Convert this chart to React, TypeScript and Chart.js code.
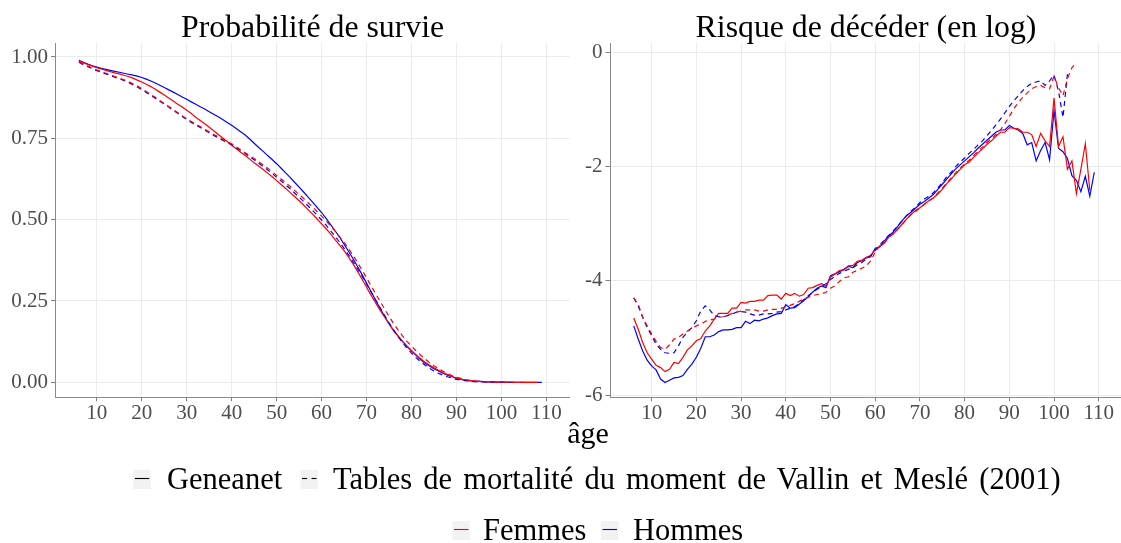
import React, { useEffect, useRef } from "react";
import { Chart, registerables } from "chart.js";

Chart.register(...registerables);

// ---------- DATA ----------
const ages = [
  6, 7, 8, 9, 10, 11, 12, 13, 14, 15, 16, 17, 18, 19, 20,
  21, 22, 23, 24, 25, 26, 27, 28, 29, 30,
  31, 32, 33, 34, 35, 36, 37, 38, 39, 40,
  41, 42, 43, 44, 45, 46, 47, 48, 49, 50,
  51, 52, 53, 54, 55, 56, 57, 58, 59, 60,
  61, 62, 63, 64, 65, 66, 67, 68, 69, 70,
  71, 72, 73, 74, 75, 76, 77, 78, 79, 80,
  81, 82, 83, 84, 85, 86, 87, 88, 89, 90,
  91, 92, 93, 94, 95, 96, 97, 98, 99, 100,
  101, 102, 103, 104, 105, 106, 107, 108, 109,
];

const xTicks = [10, 20, 30, 40, 50, 60, 70, 80, 90, 100, 110];
const survieTicks = [0, 0.25, 0.5, 0.75, 1];
const risqueTicks = [-6, -4, -2, 0];

// Probabilité de survie
const survieFemmesGeneanet = [
  0.987, 0.982, 0.977, 0.972, 0.967, 0.963, 0.959, 0.955, 0.951, 0.948, 0.944, 0.94, 0.935, 0.929, 0.923,
  0.916, 0.909, 0.901, 0.892, 0.883, 0.874, 0.865, 0.855, 0.846, 0.836,
  0.826, 0.815, 0.805, 0.795, 0.784, 0.773, 0.762, 0.751, 0.74, 0.729,
  0.718, 0.707, 0.697, 0.686, 0.675, 0.665, 0.654, 0.643, 0.632, 0.62,
  0.608, 0.596, 0.583, 0.571, 0.558, 0.545, 0.531, 0.517, 0.502, 0.487,
  0.472, 0.456, 0.439, 0.422, 0.405, 0.385, 0.364, 0.341, 0.317, 0.292,
  0.268, 0.245, 0.222, 0.201, 0.18, 0.16, 0.142, 0.126, 0.111, 0.097,
  0.085, 0.073, 0.062, 0.053, 0.045, 0.037, 0.03, 0.024, 0.018, 0.013,
  0.01, 0.007, 0.005, 0.004, 0.003, 0.002, 0.0015, 0.001, 0.0008, 0.0005,
  0.0004, 0.0003, 0.0002, 0.0002, 0.0001, 0.0001, 0.0001, 0.0001, null,
];
const survieHommesGeneanet = [
  0.99, 0.984, 0.978, 0.973, 0.969, 0.965, 0.962, 0.959, 0.956, 0.953, 0.95, 0.947, 0.944, 0.941, 0.937,
  0.932, 0.926, 0.92, 0.913, 0.906, 0.899, 0.892, 0.885, 0.877, 0.87,
  0.862, 0.855, 0.847, 0.84, 0.832, 0.824, 0.816, 0.808, 0.799, 0.79,
  0.78, 0.77, 0.76, 0.748, 0.735, 0.722, 0.71, 0.697, 0.685, 0.672,
  0.658, 0.644, 0.63, 0.615, 0.6, 0.585, 0.569, 0.554, 0.538, 0.522,
  0.504, 0.485, 0.466, 0.446, 0.425, 0.403, 0.38, 0.356, 0.331, 0.305,
  0.279, 0.253, 0.228, 0.203, 0.18, 0.16, 0.143, 0.126, 0.111, 0.097,
  0.083, 0.07, 0.059, 0.05, 0.042, 0.035, 0.028, 0.022, 0.017, 0.013,
  0.009, 0.007, 0.005, 0.004, 0.003, 0.002, 0.0015, 0.001, 0.0007, 0.0005,
  0.0004, 0.0003, 0.0002, 0.0002, 0.0001, 0.0001, 0.0001, 0.0001, 0.0001,
];
const survieFemmesVallin = [
  0.985, 0.978, 0.972, 0.966, 0.96, 0.955, 0.95, 0.945, 0.94, 0.935, 0.93, 0.925, 0.918, 0.911, 0.903,
  0.894, 0.885, 0.876, 0.866, 0.857, 0.848, 0.838, 0.829, 0.819, 0.81,
  0.802, 0.794, 0.786, 0.778, 0.77, 0.762, 0.755, 0.747, 0.74, 0.733,
  0.724, 0.715, 0.706, 0.697, 0.688, 0.678, 0.668, 0.658, 0.647, 0.636,
  0.625, 0.614, 0.602, 0.59, 0.578, 0.565, 0.552, 0.539, 0.525, 0.511,
  0.496, 0.481, 0.465, 0.448, 0.43, 0.411, 0.39, 0.368, 0.345, 0.321,
  0.297, 0.273, 0.249, 0.226, 0.203, 0.181, 0.161, 0.143, 0.126, 0.111,
  0.097, 0.084, 0.072, 0.061, 0.051, 0.042, 0.034, 0.027, 0.021, 0.016,
  0.012, 0.008, 0.006, 0.004, 0.003, 0.002, 0.0013, 0.0008, 0.0005, 0.0003,
  0.0002, 0.0001, 0.0001, 0.0001, 0.0, null, null, null, null,
];
const survieHommesVallin = [
  0.984, 0.976, 0.97, 0.964, 0.958, 0.953, 0.948, 0.943, 0.938, 0.933, 0.928, 0.922, 0.915, 0.908, 0.9,
  0.891, 0.882, 0.873, 0.864, 0.855, 0.846, 0.836, 0.827, 0.817, 0.808,
  0.799, 0.791, 0.783, 0.775, 0.767, 0.759, 0.752, 0.744, 0.737, 0.73,
  0.721, 0.712, 0.703, 0.693, 0.684, 0.674, 0.663, 0.653, 0.642, 0.63,
  0.619, 0.607, 0.595, 0.582, 0.569, 0.556, 0.542, 0.528, 0.514, 0.499,
  0.483, 0.466, 0.449, 0.431, 0.412, 0.392, 0.371, 0.349, 0.326, 0.302,
  0.278, 0.254, 0.23, 0.206, 0.183, 0.161, 0.141, 0.122, 0.105, 0.09,
  0.076, 0.064, 0.053, 0.043, 0.035, 0.028, 0.022, 0.017, 0.013, 0.009,
  0.007, 0.005, 0.003, 0.002, 0.0015, 0.001, 0.0007, 0.0004, 0.0003, 0.0002,
  0.0001, 0.0001, 0.0, null, null, null, null, null, null,
];

// Risque de décéder (en log)
const risqueFemmesGeneanet = [
  -4.65, -4.85, -5.08, -5.26, -5.37, -5.48, -5.52, -5.59, -5.55, -5.43, -5.45, -5.34, -5.21, -5.14, -5.05,
  -5.01, -4.88, -4.79, -4.67, -4.57, -4.57, -4.57, -4.48, -4.48, -4.38,
  -4.39, -4.36, -4.36, -4.34, -4.34, -4.26, -4.25, -4.25, -4.32, -4.22,
  -4.26, -4.22, -4.27, -4.24, -4.13, -4.12, -4.08, -4.05, -4.09, -3.94,
  -3.88, -3.82, -3.81, -3.74, -3.73, -3.66, -3.64, -3.59, -3.56, -3.45,
  -3.4, -3.35, -3.24, -3.18, -3.1, -3.01, -2.92, -2.84, -2.77, -2.72,
  -2.66, -2.6, -2.55, -2.48, -2.4, -2.3, -2.22, -2.13, -2.05, -1.97,
  -1.92, -1.84, -1.76, -1.69, -1.61, -1.55, -1.47, -1.4, -1.4, -1.32,
  -1.33, -1.34, -1.4, -1.4, -1.44, -1.65, -1.42, -1.55, -1.65, -0.8,
  -1.65, -1.48, -2.05, -1.9, -2.47, -2.05, -1.6, -2.42, null,
];
const risqueHommesGeneanet = [
  -4.79, -5.02, -5.23, -5.39, -5.49, -5.56, -5.72, -5.78, -5.74, -5.7, -5.69, -5.66, -5.55, -5.46, -5.34,
  -5.18, -4.98, -4.98, -4.95, -4.89, -4.86, -4.86, -4.85, -4.82, -4.82,
  -4.71, -4.75, -4.69, -4.7, -4.67, -4.65, -4.61, -4.58, -4.57, -4.42,
  -4.48, -4.47, -4.41, -4.35, -4.28, -4.2, -4.13, -4.09, -4.12, -3.91,
  -3.88, -3.84, -3.8, -3.75, -3.77, -3.68, -3.65, -3.6, -3.58, -3.43,
  -3.41, -3.31, -3.21, -3.15, -3.05, -2.95, -2.86, -2.8, -2.73, -2.66,
  -2.61, -2.55, -2.49, -2.4, -2.31, -2.22, -2.13, -2.04, -1.97, -1.9,
  -1.83, -1.76, -1.68, -1.61, -1.54, -1.47, -1.4, -1.36, -1.36, -1.28,
  -1.33, -1.36, -1.42, -1.62, -1.58, -1.9, -1.72, -1.58, -1.88, -1.02,
  -1.68, -1.74, -1.86, -2.16, -2.24, -2.44, -2.17, -2.52, -2.1,
];
const risqueFemmesVallin = [
  -4.3, -4.41, -4.64, -4.79, -4.93, -5.06, -5.17, -5.2, -5.12, -5.02, -4.99, -4.93, -4.88, -4.83, -4.79,
  -4.76, -4.71, -4.69, -4.67, -4.64, -4.63, -4.61, -4.57, -4.55, -4.53,
  -4.51, -4.51, -4.51, -4.53, -4.53, -4.51, -4.5, -4.5, -4.48, -4.46,
  -4.43, -4.4, -4.36, -4.32, -4.29, -4.26, -4.24, -4.23, -4.2, -4.13,
  -4.09, -4.01, -3.95, -3.93, -3.85, -3.82, -3.78, -3.74, -3.65, -3.5,
  -3.39, -3.33, -3.24, -3.18, -3.1, -3.01, -2.93, -2.84, -2.79, -2.72,
  -2.66, -2.6, -2.55, -2.46, -2.38, -2.29, -2.2, -2.11, -2.03, -1.95,
  -1.89, -1.81, -1.73, -1.66, -1.58, -1.51, -1.44, -1.36, -1.25, -1.12,
  -0.99, -0.88, -0.79, -0.71, -0.64, -0.6, -0.58, -0.62, -0.64, -0.42,
  -0.62, -0.76, -0.46, -0.27, -0.17, null, null, null, null,
];
const risqueHommesVallin = [
  -4.3, -4.44, -4.64, -4.82, -4.96, -5.11, -5.2, -5.26, -5.27, -5.26, -5.14, -4.99, -4.9, -4.82, -4.7,
  -4.53, -4.44, -4.51, -4.61, -4.63, -4.63, -4.61, -4.58, -4.55, -4.54,
  -4.55, -4.58, -4.6, -4.6, -4.58, -4.58, -4.57, -4.55, -4.54, -4.51,
  -4.48, -4.45, -4.4, -4.33, -4.26, -4.2, -4.15, -4.1, -4.05, -3.98,
  -3.92, -3.87, -3.83, -3.8, -3.77, -3.72, -3.68, -3.62, -3.56, -3.47,
  -3.38, -3.29, -3.21, -3.13, -3.04, -2.95, -2.86, -2.78, -2.71, -2.63,
  -2.57, -2.52, -2.46, -2.38, -2.28, -2.18, -2.1, -2.0, -1.92, -1.85,
  -1.77, -1.7, -1.62, -1.55, -1.46, -1.37, -1.27, -1.17, -1.06, -0.95,
  -0.85, -0.76, -0.67, -0.6, -0.54, -0.52, -0.5, -0.58, -0.5, -0.4,
  -0.68, -1.14, -0.38, null, null, null, null, null, null,
];

// ---------- STYLE ----------
const FONT = "'Liberation Serif', 'DejaVu Serif', serif";
const RED = "#FF0000";
const BLUE = "#0000FF";
const DASH = [5, 4];

type Vals = (number | null)[];

function toPoints(vals: Vals) {
  return ages.map((a, i) => ({ x: a, y: vals[i] }));
}

function buildDatasets(fv: Vals, hv: Vals, fg: Vals, hg: Vals) {
  const base = { pointRadius: 0, borderWidth: 1.2, tension: 0, spanGaps: false, fill: false };
  return [
    { ...base, label: "Femmes Vallin", data: toPoints(fv), borderColor: RED, borderDash: DASH },
    { ...base, label: "Hommes Vallin", data: toPoints(hv), borderColor: BLUE, borderDash: DASH },
    { ...base, label: "Femmes Geneanet", data: toPoints(fg), borderColor: RED },
    { ...base, label: "Hommes Geneanet", data: toPoints(hg), borderColor: BLUE },
  ];
}

function makeOptions(o: {
  yMin: number; yMax: number; yTicks: number[]; yFmt: (v: number) => string;
  yWidth: number; xHeight: number; padRight: number; yTickLen: number;
}) {
  return {
    responsive: false,
    animation: false as const,
    events: [],
    layout: { padding: { left: 0, right: o.padRight, top: 43, bottom: 0 } },
    plugins: { legend: { display: false }, tooltip: { enabled: false }, title: { display: false } },
    scales: {
      x: {
        type: "linear" as const,
        min: 0.8,
        max: 115.2,
        afterBuildTicks: (s: any) => { s.ticks = xTicks.map((v) => ({ value: v })); },
        afterFit: (s: any) => { s.height = o.xHeight; },
        grid: { color: "#EBEBEB", lineWidth: 1, drawTicks: true, tickLength: 4, tickColor: "#7F7F7F" },
        border: { display: true, color: "#8A8A8A", width: 1 },
        ticks: {
          font: { family: FONT, size: 21 }, color: "#4D4D4D", padding: 0,
          maxRotation: 0, autoSkip: false, callback: (v: any) => String(v),
        },
      },
      y: {
        type: "linear" as const,
        min: o.yMin,
        max: o.yMax,
        afterBuildTicks: (s: any) => { s.ticks = o.yTicks.map((v) => ({ value: v })); },
        afterFit: (s: any) => { s.width = o.yWidth; },
        grid: { color: "#EBEBEB", lineWidth: 1, drawTicks: true, tickLength: o.yTickLen, tickColor: "#7F7F7F" },
        border: { display: true, color: "#8A8A8A", width: 1 },
        ticks: {
          font: { family: FONT, size: 21 }, color: "#4D4D4D", padding: 3,
          autoSkip: false, callback: (v: any) => o.yFmt(Number(v)),
        },
      },
    },
  };
}

function Panel(props: {
  left: number; width: number; datasets: any[]; options: any;
}) {
  const ref = useRef<HTMLCanvasElement | null>(null);
  useEffect(() => {
    if (!ref.current) return;
    const chart = new Chart(ref.current, {
      type: "line",
      data: { datasets: props.datasets },
      options: props.options,
    } as any);
    return () => chart.destroy();
  }, []);
  return (
    <canvas
      ref={ref}
      width={props.width}
      height={430}
      style={{ position: "absolute", left: props.left, top: 0, width: props.width, height: 430 }}
    />
  );
}

function Key(props: { x: number; y: number; color: string; dashed?: boolean }) {
  const { x, y, color, dashed } = props;
  return (
    <g>
      <rect x={x} y={y} width={17.5} height={19} fill="#F2F2F2" />
      {dashed ? (
        <g>
          <line x1={x + 1.5} x2={x + 6.5} y1={y + 8.5} y2={y + 8.5} stroke={color} strokeWidth={1.1} />
          <line x1={x + 11} x2={x + 16} y1={y + 8.5} y2={y + 8.5} stroke={color} strokeWidth={1.1} />
        </g>
      ) : (
        <line x1={x + 1.5} x2={x + 16} y1={y + 8.5} y2={y + 8.5} stroke={color} strokeWidth={1.1} />
      )}
    </g>
  );
}

export default function App() {
  const leftOptions = makeOptions({
    yMin: -0.046, yMax: 1.043, yTicks: survieTicks, yFmt: (v) => v.toFixed(2),
    yWidth: 55.5, xHeight: 430 - 397.3, padRight: 575 - 569.7, yTickLen: 4.5,
  });
  const rightOptions = makeOptions({
    yMin: -6.04, yMax: 0.163, yTicks: risqueTicks, yFmt: (v) => String(v),
    yWidth: 35.5, xHeight: 430 - 397.3, padRight: 1, yTickLen: 5,
  });
  const leftData = buildDatasets(survieFemmesVallin, survieHommesVallin, survieFemmesGeneanet, survieHommesGeneanet);
  const rightData = buildDatasets(risqueFemmesVallin, risqueHommesVallin, risqueFemmesGeneanet, risqueHommesGeneanet);

  return (
    <div style={{ position: "fixed", left: 0, top: 0, width: 1121, height: 543, background: "#fff", overflow: "hidden" }}>
      <Panel left={0} width={575} datasets={leftData} options={leftOptions} />
      <Panel left={575} width={548} datasets={rightData} options={rightOptions} />
      <svg
        width={1121}
        height={543}
        style={{ position: "absolute", left: 0, top: 0, pointerEvents: "none" }}
        fontFamily={FONT}
      >
        <text x={312.6} y={37} textAnchor="middle" fontSize={31.8} fill="#000">Probabilité de survie</text>
        <text x={866} y={37} textAnchor="middle" fontSize={31.8} fill="#000">Risque de décéder (en log)</text>
        <text x={588} y={443} textAnchor="middle" fontSize={30} fill="#000">âge</text>

        <Key x={133.3} y={470} color="#000" />
        <text x={167} y={489} fontSize={30.5} fill="#000">Geneanet</text>
        <Key x={300.5} y={470} color="#000" dashed />
        <text x={333} y={489} fontSize={30.5} wordSpacing={3.5} fill="#000">Tables de mortalité du moment de Vallin et Meslé (2001)</text>

        <Key x={452.5} y={521} color={RED} />
        <text x={483} y={540} fontSize={30.5} fill="#000">Femmes</text>
        <Key x={601} y={521} color={BLUE} />
        <text x={633} y={540} fontSize={30.5} fill="#000">Hommes</text>
      </svg>
    </div>
  );
}
